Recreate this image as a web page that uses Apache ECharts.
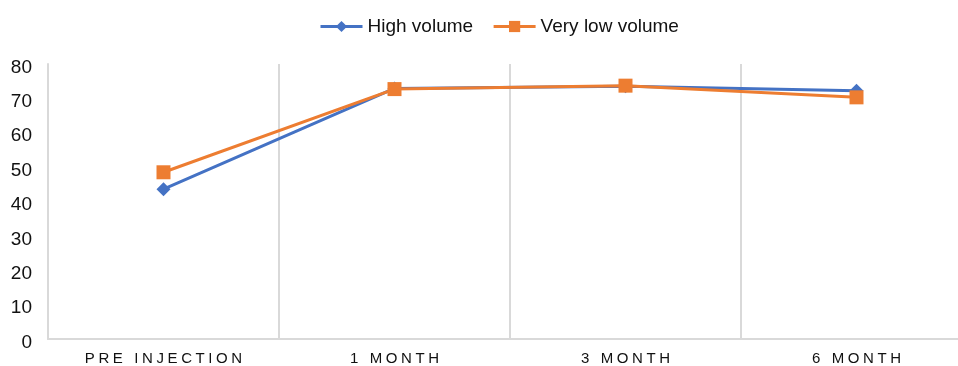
<!DOCTYPE html>
<html>
<head>
<meta charset="utf-8">
<script src="https://cdn.jsdelivr.net/npm/echarts@6/dist/echarts.min.js"></script>
<style>
  html, body { margin: 0; padding: 0; background: #fff; overflow: hidden; }
  #chart { width: 972px; height: 366px; }
</style>
</head>
<body>
<div id="chart"></div>
<script>
// Follow-up time points
const categories = ['PRE INJECTION', '1 MONTH', '3 MONTH', '6 MONTH'];
// Mean scores per group
const highVolume = [43.6, 72.9, 73.5, 72.2];
const veryLowVolume = [48.5, 72.7, 73.7, 70.3];
// Value axis range
const yMin = 0, yMax = 80, yStep = 10;

const FONT = '"Liberation Sans", sans-serif';
// Category labels use their own family list so they can be told apart
const X_FONT = 'Arial, "Liberation Sans", sans-serif';
const BLUE = '#4472C4';
const ORANGE = '#ED7D31';

// Category labels are drawn letter-spaced: widen the tracking only for
// text whose font starts with the category label family.
(function () {
  const proto = CanvasRenderingContext2D.prototype;
  const origFill = proto.fillText;
  proto.fillText = function (text, x, y, maxWidth) {
    const args = maxWidth === undefined ? [text, x, y] : [text, x, y, maxWidth];
    if ('letterSpacing' in this && /px\s+Arial/.test(this.font)) {
      const prev = this.letterSpacing;
      this.letterSpacing = '3.6px';
      args[1] = x + 1.8;
      const r = origFill.apply(this, args);
      this.letterSpacing = prev;
      return r;
    }
    if ('letterSpacing' in this && this.letterSpacing !== '0px') this.letterSpacing = '0px';
    return origFill.apply(this, args);
  };
})();

const chart = echarts.init(document.getElementById('chart'), null, { renderer: 'canvas' });
chart.setOption({
  animation: false,
  textStyle: { fontFamily: FONT },
  legend: {
    top: 12,
    left: 314,
    itemWidth: 42,
    itemHeight: 14,
    itemGap: 19,
    lineStyle: { width: 3 },
    textStyle: { fontFamily: FONT, fontSize: 19, color: '#111' },
    data: ['High volume', 'Very low volume']
  },
  grid: { left: 48, top: 64, right: 0, height: 275 },
  xAxis: {
    type: 'category',
    data: categories,
    boundaryGap: true,
    axisLine: { lineStyle: { color: '#d9d9d9', width: 2 } },
    axisTick: { show: false },
    splitLine: { show: true, lineStyle: { color: '#d9d9d9', width: 2 } },
    axisLabel: { fontFamily: X_FONT, fontSize: 15, color: '#111', margin: 12 }
  },
  yAxis: {
    type: 'value',
    min: yMin, max: yMax, interval: yStep,
    axisLine: { show: true, lineStyle: { color: '#d9d9d9', width: 2 } },
    axisTick: { show: false },
    splitLine: { show: false },
    axisLabel: {
      color: '#111',
      margin: 16,
      formatter: '{v|{value}}',
      rich: { v: { fontFamily: FONT, fontSize: 19, color: '#111', padding: [7, 0, 0, 0] } }
    }
  },
  series: [
    {
      name: 'High volume',
      type: 'line',
      data: highVolume,
      symbol: 'diamond',
      symbolSize: 14,
      lineStyle: { color: BLUE, width: 3 },
      itemStyle: { color: BLUE },
      z: 2
    },
    {
      name: 'Very low volume',
      type: 'line',
      data: veryLowVolume,
      symbol: 'rect',
      symbolSize: 14,
      lineStyle: { color: ORANGE, width: 3 },
      itemStyle: { color: ORANGE },
      z: 3
    }
  ]
});
</script>
</body>
</html>
